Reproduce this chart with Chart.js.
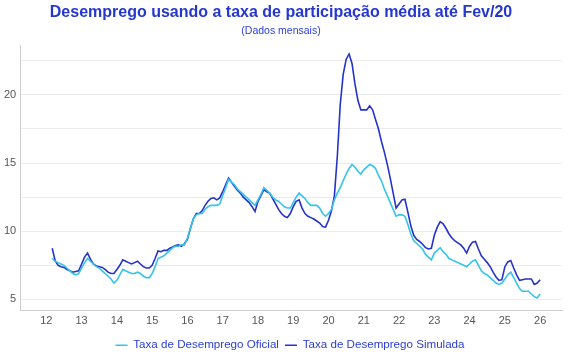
<!DOCTYPE html>
<html>
<head>
<meta charset="utf-8">
<script src="https://cdn.jsdelivr.net/npm/chart.js@4/dist/chart.umd.min.js"></script>
<style>
  html, body { margin: 0; padding: 0; background: #ffffff; }
  #wrap { width: 570px; height: 360px; }
</style>
</head>
<body>
<div id="wrap"><canvas id="c" width="570" height="360"></canvas></div>
<script>
// First month of the series: March 2012 (monthly data through January 2026)
const startYear = 2012;
const startMonth = 3;

const yearTicks = [12, 13, 14, 15, 16, 17, 18, 19, 20, 21, 22, 23, 24, 25, 26];

const seriesNames = ["Taxa de Desemprego Oficial", "Taxa de Desemprego Simulada"];

const oficial = [
  8.0, 7.8, 7.7, 7.6, 7.5, 7.3, 7.1, 6.9, 6.8, 6.9,
  7.3, 7.7, 8.0, 7.8, 7.6, 7.4, 7.3, 7.1, 6.9, 6.7, 6.5, 6.2,
  6.4, 6.8, 7.2, 7.1, 7.0, 6.9, 6.9, 7.0, 6.9, 6.7, 6.6, 6.6,
  6.9, 7.4, 8.0, 8.1, 8.2, 8.4, 8.6, 8.8, 8.9, 8.9, 9.0, 9.0,
  9.5, 10.2, 10.9, 11.2, 11.3, 11.3, 11.6, 11.8, 11.9, 11.9, 11.9, 12.0,
  12.6, 13.2, 13.8, 13.6, 13.4, 13.1, 12.9, 12.7, 12.5, 12.3, 12.1, 11.9,
  12.3, 12.7, 13.2, 13.0, 12.8, 12.5, 12.3, 12.2, 12.0, 11.8, 11.7, 11.7,
  12.1, 12.5, 12.8, 12.6, 12.4, 12.1, 11.9, 11.9, 11.9, 11.7, 11.3, 11.1,
  11.3, 11.6, 12.3, 12.8, 13.2, 13.7, 14.2, 14.6, 14.9, 14.7, 14.4, 14.2,
  14.5, 14.7, 14.9, 14.8, 14.6, 14.1, 13.7, 13.1, 12.6, 12.1, 11.6, 11.1,
  11.2, 11.2, 11.1, 10.5, 9.8, 9.3, 9.1, 8.9, 8.7, 8.3, 8.1, 7.9,
  8.4, 8.6, 8.8, 8.5, 8.3, 8.0, 7.9, 7.8, 7.7, 7.6, 7.5, 7.4,
  7.6, 7.8, 7.9, 7.5, 7.1, 6.9, 6.8, 6.6, 6.4, 6.2, 6.1, 6.2,
  6.5, 6.8, 7.0, 6.6, 6.2, 5.8, 5.6, 5.6, 5.6, 5.4, 5.2, 5.1,
  5.4
];

const simulada = [
  8.75, 7.85, 7.5, 7.4, 7.35, 7.2, 7.1, 7.0, 7.05, 7.1,
  7.6, 8.1, 8.4, 7.95, 7.6, 7.45, 7.4, 7.35, 7.2, 7.0, 6.9, 6.9,
  7.2, 7.5, 7.9, 7.8, 7.7, 7.6, 7.7, 7.8, 7.6, 7.4, 7.3, 7.3,
  7.5, 8.0, 8.55, 8.5, 8.6, 8.6, 8.75, 8.85, 8.95, 9.0, 8.9, 9.1,
  9.4, 10.2, 10.9, 11.3, 11.3, 11.5, 11.9, 12.2, 12.4, 12.45, 12.3, 12.45,
  12.9, 13.4, 13.9, 13.6, 13.3, 13.0, 12.8, 12.5, 12.3, 12.1, 11.8, 11.45,
  12.2, 12.6, 13.05, 12.9, 12.8, 12.4, 12.0, 11.6, 11.3, 11.1, 11.0, 11.3,
  11.8, 12.2, 12.3, 11.7, 11.3, 11.1, 11.0, 10.9, 10.75, 10.6, 10.35, 10.3,
  10.8, 11.5, 12.6, 15.5, 19.3, 21.5, 22.6, 23.0, 22.3, 20.8, 19.6, 18.9,
  18.9, 18.9, 19.2, 18.9, 18.2, 17.5, 16.6, 15.8, 14.9, 13.9, 12.8, 11.7,
  12.0, 12.3, 12.35, 11.4, 10.4, 9.7, 9.4, 9.25, 9.05, 8.8, 8.7, 8.75,
  9.7, 10.3, 10.7, 10.55, 10.2, 9.8, 9.5, 9.3, 9.15, 9.0, 8.75, 8.4,
  8.9, 9.2, 9.25, 8.7, 8.2, 7.95, 7.7, 7.4, 7.0, 6.65, 6.4, 6.45,
  7.4, 7.75, 7.85, 7.3, 6.8, 6.4, 6.45, 6.5, 6.5, 6.5, 6.1, 6.2,
  6.45
];

// x position of each month as a decimal two-digit year (Jan 2012 -> 12.0)
function monthX(i) {
  const m0 = (startYear - 2000) * 12 + (startMonth - 1) + i;
  return m0 / 12;
}
const toPoints = arr => arr.map((v, i) => ({ x: monthX(i), y: v }));

const LIGHT = '#36c3ea';
const DARK = '#2433c9';
const TEXTBLUE = '#2a3dd6';

// nudge the legend so it sits centred under the plot area, like the reference
const legendNudge = {
  id: 'legendNudge',
  afterLayout(chart) {
    const lg = chart.legend;
    if (!lg) return;
    lg.left += 9; lg.right += 9;
    lg.top += 2; lg.bottom += 2;
  }
};

new Chart(document.getElementById('c'), {
  type: 'line',
  data: {
    datasets: [
      {
        label: seriesNames[0],
        data: toPoints(oficial),
        borderColor: LIGHT,
        backgroundColor: LIGHT,
        borderWidth: 1.6,
        pointRadius: 0,
        tension: 0
      },
      {
        label: seriesNames[1],
        data: toPoints(simulada),
        borderColor: DARK,
        backgroundColor: DARK,
        borderWidth: 1.6,
        pointRadius: 0,
        tension: 0
      }
    ]
  },
  plugins: [legendNudge],
  options: {
    responsive: false,
    animation: false,
    devicePixelRatio: 1,
    layout: { padding: { left: 0, right: 8, top: 0, bottom: 1 } },
    plugins: {
      title: {
        display: true,
        text: 'Desemprego usando a taxa de participação média até Fev/20',
        color: '#2437cf',
        font: { family: 'Liberation Sans', size: 16, weight: 'bold' },
        padding: { top: 3, bottom: 3 }
      },
      subtitle: {
        display: true,
        text: '(Dados mensais)',
        color: TEXTBLUE,
        font: { family: 'Liberation Sans', size: 10.5 },
        padding: { top: 0, bottom: 8 }
      },
      legend: {
        position: 'bottom',
        labels: {
          usePointStyle: true,
          pointStyle: 'line',
          pointStyleWidth: 12,
          color: TEXTBLUE,
          font: { family: 'Liberation Sans', size: 11.6 },
          padding: 6,
          boxHeight: 11
        }
      },
      tooltip: { enabled: false }
    },
    scales: {
      x: {
        type: 'linear',
        min: 11.26,
        max: 26.62,
        grid: { display: false, drawTicks: false },
        border: { display: true, color: '#cfcfcf', width: 1 },
        afterBuildTicks: (axis) => { axis.ticks = yearTicks.map(v => ({ value: v })); },
        ticks: {
          color: '#555555',
          font: { family: 'Liberation Sans', size: 11 },
          padding: 4,
          maxRotation: 0,
          autoSkip: false,
          callback: (v) => String(v)
        }
      },
      y: {
        type: 'linear',
        min: 4.21,
        max: 23.6,
        afterBuildTicks: (axis) => {
          const t = [];
          for (let v = 5; v <= 22.5; v += 2.5) t.push({ value: v });
          axis.ticks = t;
        },
        grid: { color: '#ececec', lineWidth: 1, drawTicks: false },
        border: { display: true, color: '#cfcfcf', width: 1 },
        ticks: {
          color: '#555555',
          font: { family: 'Liberation Sans', size: 11 },
          padding: 4,
          callback: (v) => (v % 5 === 0 ? String(v) : '')
        }
      }
    }
  }
});
</script>
</body>
</html>
